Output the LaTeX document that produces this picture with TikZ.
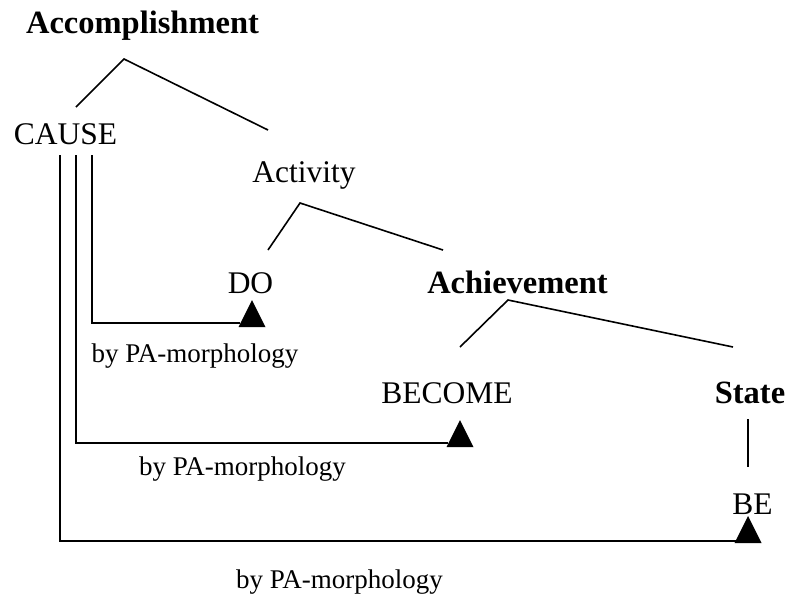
\documentclass[tikz,border=0pt]{standalone}
\usepackage{fontspec}
\setmainfont{Liberation Serif}
\begin{document}
\begin{tikzpicture}[x=1pt,y=-1pt,
  lbl/.style={anchor=base,inner sep=0pt,font=\fontsize{31.5}{36}\selectfont},
  blbl/.style={lbl,font=\fontsize{32.5}{36}\selectfont\bfseries},
  small/.style={anchor=base,inner sep=0pt,font=\fontsize{27}{30}\selectfont},
  edge/.style={line width=1.6pt},
  tri/.style={fill=black}]
\useasboundingbox (0,0) rectangle (788,598);
% texts
\node[blbl] (acc) at (142.5,33) {Accomplishment};
\node[lbl] (cause) at (65.5,144) {CAUSE};
\node[lbl] (act) at (304,182) {Activity};
\node[lbl] (do) at (250.5,293) {DO};
\node[blbl] (ach) at (517.5,293) {Achievement};
\node[lbl] (become) at (447,403) {BECOME};
\node[blbl] (state) at (750,403) {State};
\node[lbl] (be) at (752.5,514) {BE};
\node[small] (pa1) at (195,362) {by PA-morphology};
\node[small] (pa2) at (242.5,475) {by PA-morphology};
\node[small] (pa3) at (339.5,588) {by PA-morphology};
% tree coordinates
\coordinate (accA) at (124,59);
\coordinate (accL) at (76,107);
\coordinate (accR) at (268,130);
\coordinate (actA) at (300,203);
\coordinate (actL) at (268,250);
\coordinate (actR) at (443,250);
\coordinate (achA) at (508,300);
\coordinate (achL) at (460,347);
\coordinate (achR) at (733,347);
\coordinate (stT) at (748,419);
\coordinate (stB) at (748,467);
\draw[edge] (accL) -- (accA) -- (accR);
\draw[edge] (actL) -- (actA) -- (actR);
\draw[edge] (achL) -- (achA) -- (achR);
\draw[edge] (stT) -- (stB);
% triangles (base centre)
\coordinate (t1) at (252,327);
\coordinate (t2) at (460,447);
\coordinate (t3) at (748,543);
\foreach \t in {t1,t2,t3}
  \fill[tri] (\t) ++(-13.5,0) -- ++(27,0) -- ++(-13.5,-27) -- cycle;
% CAUSE lines
\coordinate (c1) at (92,155);
\coordinate (c2) at (76,155);
\coordinate (c3) at (60,155);
\coordinate (e1) at (240,323);
\coordinate (e2) at (448,443);
\coordinate (e3) at (736,541);
\draw[edge] (c1) |- (e1);
\draw[edge] (c2) |- (e2);
\draw[edge] (c3) |- (e3);
\end{tikzpicture}
\end{document}
